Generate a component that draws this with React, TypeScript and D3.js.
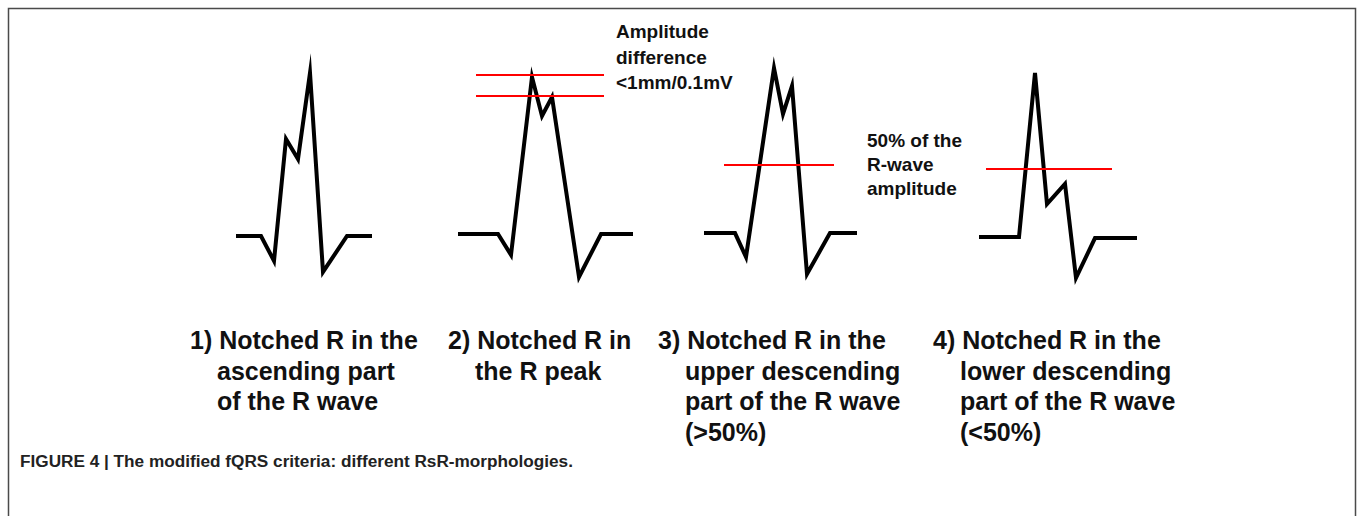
import { useMemo } from "react";
import * as d3 from "d3";

const WIDTH = 1360;
const HEIGHT = 516;

// panel onset (figure x) and R-wave relative amplitude (1 = tallest R)
const PANEL_STARTS = [236, 458, 704, 979];

const WAVE_1_TIMES = [0, 25, 38, 50, 62, 74, 87, 111, 136];
const WAVE_1_AMPS = [-0.006, -0.006, -0.16, 0.593, 0.469, 1.0, -0.228, -0.006, -0.006];

const WAVE_2_TIMES = [0, 40, 53, 74, 84, 94, 121, 143, 175];
const WAVE_2_AMPS = [0.006, 0.006, -0.123, 0.975, 0.735, 0.852, -0.259, 0.006, 0.006];

const WAVE_3_TIMES = [0, 31, 42, 70, 79, 88, 103, 126, 153];
const WAVE_3_AMPS = [0.012, 0.012, -0.136, 1.031, 0.747, 0.92, -0.241, 0.012, 0.012];

const WAVE_4_TIMES = [0, 40, 56, 68, 86, 97, 116, 158];
const WAVE_4_AMPS = [-0.012, -0.012, 1.0, 0.191, 0.315, -0.265, -0.019, -0.019];

// red reference lines: panel index, amplitude, start/end time
const REF_PANELS = [1, 1, 2, 3];
const REF_AMPS = [0.988, 0.858, 0.432, 0.407];
const REF_FROM = [18, 18, 20, 7];
const REF_TO = [146, 146, 130, 133];

const LABELS = [
  ["1) Notched R in the", "ascending part", "of the R wave"],
  ["2) Notched R in", "the R peak"],
  ["3) Notched R in the", "upper descending", "part of the R wave", "(>50%)"],
  ["4) Notched R in the", "lower descending", "part of the R wave", "(<50%)"]
];
const LABEL_X = [190, 448, 658, 933];

const NOTE_AMPLITUDE = ["Amplitude", "difference", "<1mm/0.1mV"];
const NOTE_HALF = ["50% of the", "R-wave", "amplitude"];

const CAPTION = "FIGURE 4 | The modified fQRS criteria: different RsR-morphologies.";

const FONT = "'Liberation Sans', Arial, Helvetica, sans-serif";

export default function App() {
  const x = useMemo(() => d3.scaleLinear().domain([0, WIDTH]).range([0, WIDTH]), []);
  const y = useMemo(() => d3.scaleLinear().domain([0, 1]).range([235, 73]), []);

  const waves = [
    [WAVE_1_TIMES, WAVE_1_AMPS],
    [WAVE_2_TIMES, WAVE_2_AMPS],
    [WAVE_3_TIMES, WAVE_3_AMPS],
    [WAVE_4_TIMES, WAVE_4_AMPS]
  ];

  const line = d3
    .line<[number, number]>()
    .x((d) => d[0])
    .y((d) => d[1]);

  return (
    <div style={{ position: "absolute", left: 0, top: 0 }}>
      <svg width={WIDTH} height={HEIGHT} viewBox={`0 0 ${WIDTH} ${HEIGHT}`} style={{ display: "block", background: "#fff" }}>
        {/* figure frame, open at the bottom */}
        <path d="M8.5,516 V8.5 H1355.5 V516" fill="none" stroke="#4a4a4a" strokeWidth="1.5" />

        {waves.map(([times, amps], i) => {
          const pts = times.map((t, k) => [x(PANEL_STARTS[i] + t), y(amps[k])] as [number, number]);
          return (
            <path
              key={`wave-${i}`}
              d={line(pts) ?? ""}
              fill="none"
              stroke="#000"
              strokeWidth="4"
              strokeLinejoin="miter"
              strokeMiterlimit={10}
            />
          );
        })}

        {REF_AMPS.map((amp, i) => (
          <line
            key={`ref-${i}`}
            x1={x(PANEL_STARTS[REF_PANELS[i]] + REF_FROM[i])}
            x2={x(PANEL_STARTS[REF_PANELS[i]] + REF_TO[i])}
            y1={y(amp)}
            y2={y(amp)}
            stroke="#ff0000"
            strokeWidth="2"
          />
        ))}

        <text fontFamily={FONT} fontWeight="bold" fontSize="19" fill="#111">
          {NOTE_AMPLITUDE.map((t, i) => (
            <tspan key={t} x={616} y={38 + i * 25.5}>
              {t}
            </tspan>
          ))}
        </text>

        <text fontFamily={FONT} fontWeight="bold" fontSize="19" fill="#111">
          {NOTE_HALF.map((t, i) => (
            <tspan key={t} x={867} y={147 + i * 24}>
              {t}
            </tspan>
          ))}
        </text>

        {LABELS.map((lines, i) => (
          <text key={`label-${i}`} fontFamily={FONT} fontWeight="bold" fontSize="25" fill="#111">
            {lines.map((t, k) => (
              <tspan key={t} x={LABEL_X[i] + (k === 0 ? 0 : 27)} y={349 + k * 30.5}>
                {t}
              </tspan>
            ))}
          </text>
        ))}

        <text x={20} y={467} fontFamily={FONT} fontWeight="bold" fontSize="17.2" fill="#222">
          {CAPTION}
        </text>
      </svg>
    </div>
  );
}
